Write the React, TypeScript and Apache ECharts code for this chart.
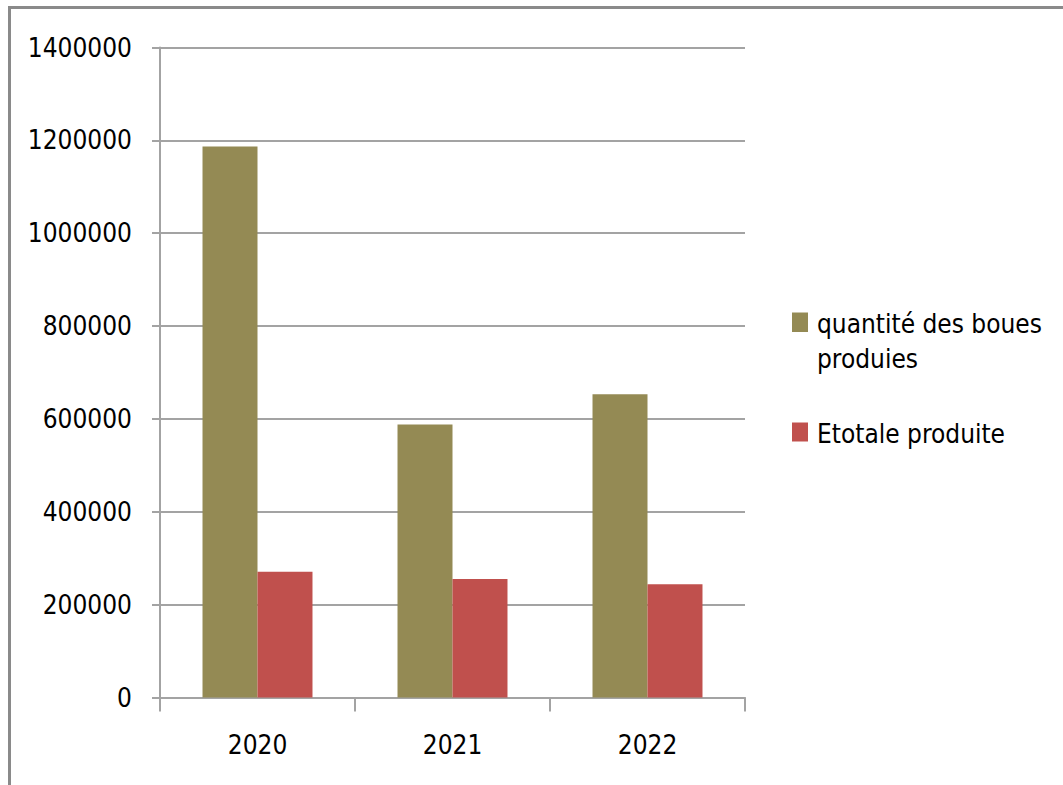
import React, { useEffect, useRef } from "react";
import * as echarts from "echarts";

// Years on the category axis
const years = ["2020", "2021", "2022"];

// Series names and values
const sludgeName = "quantité des boues produies";
const sludgeLegend = "quantité des boues\nproduies";
const sludgeValues = [1187000, 588000, 653000];

const totalName = "Etotale produite";
const totalValues = [271000, 255000, 244000];

// Value axis range
const yMin = 0;
const yMax = 1400000;
const yStep = 200000;

const OLIVE = "#948A54";
const RED = "#C0504D";
const GRID_GREY = "#a3a3a3";
const FONT = '"DejaVu Sans Condensed", "Liberation Sans Narrow", sans-serif';
const FONT_SIZE = 26;

export default function App() {
  const ref = useRef<HTMLDivElement>(null);

  useEffect(() => {
    if (!ref.current) return;
    const chart = echarts.init(ref.current, undefined, { renderer: "svg" });

    chart.setOption({
      animation: false,
      backgroundColor: "#ffffff",
      textStyle: { fontFamily: FONT },
      grid: {
        left: 160,
        right: 318,
        top: 47.5,
        bottom: 87.5,
        containLabel: false,
        outerBoundsMode: "none",
      },
      xAxis: {
        type: "category",
        data: years,
        boundaryGap: true,
        axisLine: { show: true, lineStyle: { color: GRID_GREY, width: 2 } },
        axisTick: { show: true, alignWithLabel: false, length: 14, lineStyle: { color: GRID_GREY, width: 2 } },
        axisLabel: { color: "#000", fontSize: FONT_SIZE, fontFamily: FONT, margin: 34 },
        splitLine: { show: false },
      },
      yAxis: {
        type: "value",
        min: yMin,
        max: yMax,
        interval: yStep,
        axisLine: { show: true, lineStyle: { color: GRID_GREY, width: 2 } },
        axisTick: { show: true, inside: false, length: 8, lineStyle: { color: GRID_GREY, width: 2 } },
        axisLabel: {
          color: "#000",
          fontSize: FONT_SIZE,
          fontFamily: FONT,
          margin: 28,
          formatter: (v: number) => String(v),
        },
        splitLine: { show: true, lineStyle: { color: GRID_GREY, width: 2 } },
      },
      series: [
        {
          name: sludgeName,
          type: "bar",
          data: sludgeValues,
          itemStyle: { color: OLIVE },
          barGap: "0%",
          barCategoryGap: "43.6%",
        },
        {
          name: totalName,
          type: "bar",
          data: totalValues,
          itemStyle: { color: RED },
          barGap: "0%",
          barCategoryGap: "43.6%",
        },
      ],
      graphic: [
        // Frame around the chart (only left and top edges fall inside the view)
        {
          type: "rect",
          shape: { x: 9.5, y: 7.5, width: 1200, height: 1000 },
          style: { fill: "none", stroke: "#8a8a8a", lineWidth: 3 },
          silent: true,
        },
        // Legend
        {
          type: "rect",
          shape: { x: 792, y: 312.5, width: 16, height: 19.5 },
          style: { fill: OLIVE },
        },
        {
          type: "text",
          x: 817,
          y: 307,
          style: {
            text: sludgeLegend,
            font: `${FONT_SIZE}px ${FONT}`,
            lineHeight: 34.5,
            fill: "#000",
            verticalAlign: "top",
            align: "left",
          },
        },
        {
          type: "rect",
          shape: { x: 792, y: 422.5, width: 16, height: 19 },
          style: { fill: RED },
        },
        {
          type: "text",
          x: 817,
          y: 417,
          style: {
            text: totalName,
            font: `${FONT_SIZE}px ${FONT}`,
            lineHeight: 34.5,
            fill: "#000",
            verticalAlign: "top",
            align: "left",
          },
        },
      ],
    });

    return () => chart.dispose();
  }, []);

  return (
    <div
      ref={ref}
      style={{ position: "fixed", left: 0, top: 0, width: 1063, height: 785, background: "#fff" }}
    />
  );
}
